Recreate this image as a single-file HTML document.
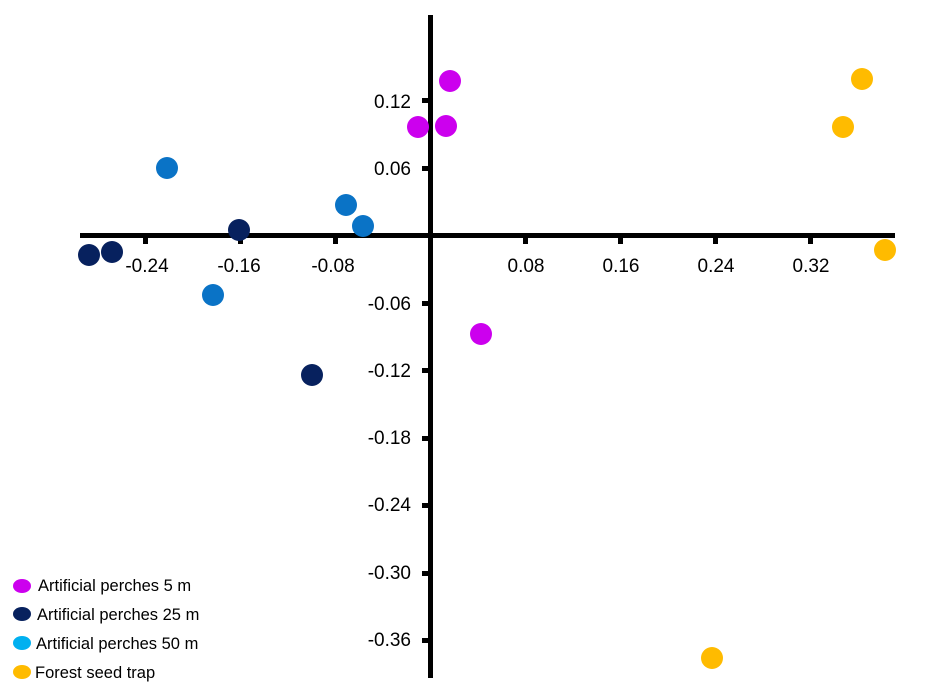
<!DOCTYPE html><html><head><style>body{margin:0;background:#fff}svg{display:block}text{font-family:"Liberation Sans",Arial,sans-serif}</style></head><body>
<svg width="928" height="699" xmlns="http://www.w3.org/2000/svg">
<g fill="#000">
<rect x="80" y="233" width="815" height="5"/>
<rect x="428" y="15" width="5" height="663"/>
<rect x="143" y="238" width="5" height="6"/><rect x="238" y="238" width="5" height="6"/><rect x="333" y="238" width="5" height="6"/>
<rect x="523" y="238" width="5" height="6"/><rect x="618" y="238" width="5" height="6"/><rect x="713" y="238" width="5" height="6"/><rect x="808" y="238" width="5" height="6"/>
<rect x="422" y="98" width="6" height="5"/><rect x="422" y="166" width="6" height="5"/><rect x="422" y="301" width="6" height="5"/><rect x="422" y="368" width="6" height="5"/><rect x="422" y="436" width="6" height="5"/><rect x="422" y="503" width="6" height="5"/><rect x="422" y="571" width="6" height="5"/><rect x="422" y="638" width="6" height="5"/>
</g>
<g font-size="19" text-anchor="middle">
<text x="147" y="272">-0.24</text><text x="239" y="272">-0.16</text><text x="333" y="272">-0.08</text>
<text x="526" y="272">0.08</text><text x="621" y="272">0.16</text><text x="716" y="272">0.24</text><text x="811" y="272">0.32</text>
</g>
<g font-size="19" text-anchor="end">
<text x="411" y="108">0.12</text><text x="411" y="175">0.06</text><text x="411" y="310">-0.06</text><text x="411" y="377">-0.12</text><text x="411" y="444">-0.18</text><text x="411" y="511">-0.24</text><text x="411" y="579">-0.30</text><text x="411" y="646">-0.36</text>
</g>
<g fill="#cc00ee"><circle cx="450" cy="81" r="11"/><circle cx="418" cy="127" r="11"/><circle cx="446" cy="126" r="11"/><circle cx="481" cy="334" r="11"/></g>
<g fill="#07215e"><circle cx="89" cy="255" r="11"/><circle cx="112" cy="252" r="11"/><circle cx="239" cy="230" r="11"/><circle cx="312" cy="375" r="11"/></g>
<g fill="#0a73c6"><circle cx="167" cy="168" r="11"/><circle cx="346" cy="205" r="11"/><circle cx="363" cy="226" r="11"/><circle cx="213" cy="295" r="11"/></g>
<g fill="#ffbb00"><circle cx="862" cy="79" r="11"/><circle cx="843" cy="127" r="11"/><circle cx="885" cy="250" r="11"/><circle cx="712" cy="658" r="11"/></g>
<ellipse cx="22" cy="586" rx="9" ry="7" fill="#cc00ee"/><ellipse cx="22" cy="614" rx="9" ry="7" fill="#07215e"/><ellipse cx="22" cy="643" rx="9" ry="7" fill="#00b0f0"/><ellipse cx="22" cy="672" rx="9" ry="7" fill="#ffbb00"/>
<g font-size="16.5"><text x="38" y="591">Artificial perches 5 m</text><text x="37" y="620">Artificial perches 25 m</text><text x="36" y="649">Artificial perches 50 m</text><text x="35" y="678">Forest seed trap</text></g>
</svg></body></html>
